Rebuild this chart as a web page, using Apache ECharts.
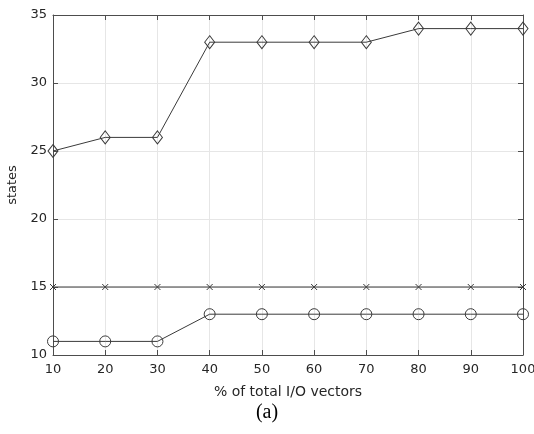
<!DOCTYPE html>
<html><head><meta charset="utf-8">
<script src="https://cdn.jsdelivr.net/npm/echarts@6/dist/echarts.min.js"></script>
<style>html,body{margin:0;padding:0;background:#fff}#c{width:534px;height:434px}</style>
</head><body><div id="c"></div>
<script>
const xValues = [10, 20, 30, 40, 50, 60, 70, 80, 90, 100];
const diamondSeries = [25, 26, 26, 33, 33, 33, 33, 34, 34, 34];
const crossSeries = [15, 15, 15, 15, 15, 15, 15, 15, 15, 15];
const circleSeries = [11, 11, 11, 13, 13, 13, 13, 13, 13, 13];
const xTicks = [10, 20, 30, 40, 50, 60, 70, 80, 90, 100];
const yTicks = [10, 15, 20, 25, 30, 35];

const lineColor = '#3a3a3a';
const axisColor = '#4d4d4d';
const textColor = '#262626';
const font = 'DejaVu Sans';
const pair = arr => arr.map((v, i) => [xValues[i], v]);

const chart = echarts.init(document.getElementById('c'), null, {renderer: 'canvas'});
const baseX = {
  type: 'value', min: 10, max: 100, interval: 10,
  axisLine: {show: true, onZero: false, lineStyle: {color: axisColor, width: 1}},
  axisTick: {show: true, inside: true, length: 5, lineStyle: {color: axisColor}},
};
const baseY = {
  type: 'value', min: 10, max: 35, interval: 5,
  axisLine: {show: true, onZero: false, lineStyle: {color: axisColor, width: 1}},
  axisTick: {show: true, inside: true, length: 5, lineStyle: {color: axisColor}},
};
const series = (data, symbol, size) => ({
  type: 'line', data: pair(data), symbol: symbol, symbolSize: size,
  showAllSymbol: true,
  lineStyle: {color: lineColor, width: 1},
  itemStyle: {color: 'rgba(0,0,0,0)', borderColor: lineColor, borderWidth: 1},
  emphasis: {disabled: true}, animation: false
});
chart.setOption({
  animation: false,
  grid: {left: 53, right: 11, top: 15, bottom: 79, containLabel: false, outerBoundsMode: 'none'},
  xAxis: [
    Object.assign({}, baseX, {
      position: 'bottom',
      name: '% of total I/O vectors', nameLocation: 'middle', nameGap: 30,
      nameTextStyle: {fontFamily: font, fontSize: 14, color: textColor},
      axisLabel: {show: true, margin: 8, fontFamily: font, fontSize: 13, color: textColor,
        formatter: v => xTicks.includes(v) ? String(v) : ''},
      splitLine: {show: true, lineStyle: {color: '#e6e6e6', width: 1}}
    }),
    Object.assign({}, baseX, {position: 'top', axisLabel: {show: false}, splitLine: {show: false}})
  ],
  yAxis: [
    Object.assign({}, baseY, {
      position: 'left',
      name: 'states', nameLocation: 'middle', nameGap: 31,
      nameTextStyle: {fontFamily: font, fontSize: 13, color: textColor},
      axisLabel: {show: true, margin: 6, fontFamily: font, fontSize: 13, color: textColor,
        formatter: v => yTicks.includes(v) ? String(v) : ''},
      splitLine: {show: true, lineStyle: {color: '#e6e6e6', width: 1}}
    }),
    Object.assign({}, baseY, {position: 'right', axisLabel: {show: false}, splitLine: {show: false}})
  ],
  title: {text: '(a)', left: 'center', top: 398,
    textStyle: {fontFamily: 'Liberation Serif', fontSize: 20, fontWeight: 'normal', color: '#000'}},
  series: [
    series(diamondSeries, 'diamond', [10, 13]),
    series(crossSeries, 'path://M0,0L10,10M10,0L0,10', 6),
    series(circleSeries, 'circle', 11)
  ]
});
</script></body></html>
